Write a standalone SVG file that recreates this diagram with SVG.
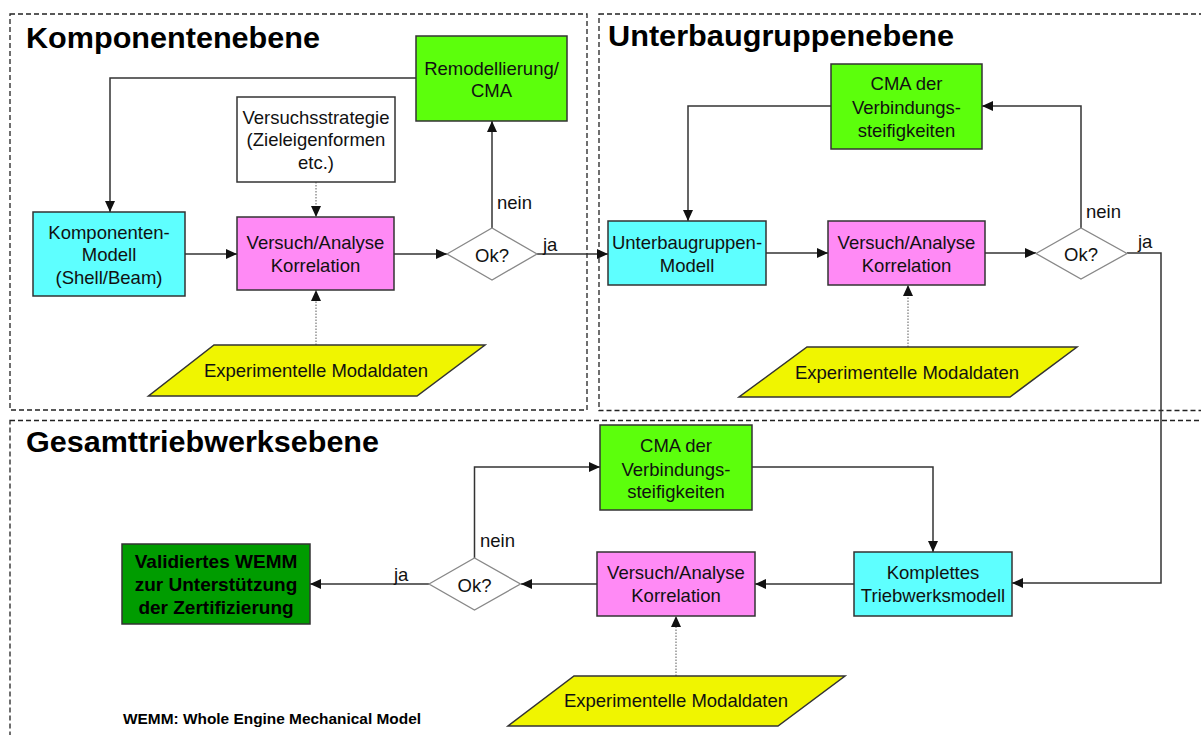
<svg xmlns="http://www.w3.org/2000/svg" width="1201" height="735" viewBox="0 0 1201 735">
<style>
.frame{fill:none;stroke:#222;stroke-width:1.3;stroke-dasharray:5,3}
.box{stroke:#333;stroke-width:1.5}
.green{fill:#5cff0c}
.pink{fill:#ff8af5}
.cyan{fill:#5effff}
.white{fill:#fff}
.yellow{fill:#f0f500}
.dgreen{fill:#009c00}
.dia{fill:#fff;stroke:#888;stroke-width:1.3}
.t{font-family:"Liberation Sans",Arial,sans-serif;font-size:18.5px;fill:#111;text-anchor:middle;dominant-baseline:central}
.tb{font-family:"Liberation Sans",Arial,sans-serif;font-size:19px;font-weight:bold;fill:#000;text-anchor:middle;dominant-baseline:central}
.title{font-family:"Liberation Sans",Arial,sans-serif;font-size:29px;font-weight:bold;fill:#000}
.lbl{font-family:"Liberation Sans",Arial,sans-serif;font-size:18.5px;fill:#111;dominant-baseline:central}
.c{fill:none;stroke:#333;stroke-width:1.5;marker-end:url(#ah)}
.d{fill:none;stroke:#777;stroke-width:1.2;stroke-dasharray:1.5,1.5;marker-end:url(#ah)}
</style>
<defs>
<marker id="ah" markerUnits="userSpaceOnUse" markerWidth="11" markerHeight="10" refX="11" refY="5" orient="auto">
<path d="M0,0 L11,5 L0,10 z" fill="#111"/>
</marker>
</defs>
<rect width="1201" height="735" fill="#fff"/>
<g id="frames">
<rect class="frame" x="10" y="14" width="577" height="396"/>
<rect class="frame" x="599" y="14" width="620" height="396.5"/>
<rect class="frame" x="10" y="420.5" width="1200" height="330"/>
<text class="title" x="26" y="48" textLength="294" lengthAdjust="spacingAndGlyphs">Komponentenebene</text>
<text class="title" x="608" y="46" textLength="346" lengthAdjust="spacingAndGlyphs">Unterbaugruppenebene</text>
<text class="title" x="26" y="452" textLength="353" lengthAdjust="spacingAndGlyphs">Gesamttriebwerksebene</text>
</g>
<g id="connectors">
<path class="c" d="M185,254 H237"/>
<path class="c" d="M394,254 H447"/>
<path class="c" d="M492,228 V121"/>
<path class="c" d="M416,78 H110 V212"/>
<path class="c" d="M537,254 H608"/>
<path class="d" d="M316,182 V217"/>
<path class="d" d="M316,345 V290"/>
<path class="c" d="M766,253 H828"/>
<path class="c" d="M985,253 H1036"/>
<path class="c" d="M1081,228 V106 H982"/>
<path class="c" d="M831,106 H688 V221"/>
<path class="c" d="M1127,253 H1161 V583 H1012"/>
<path class="d" d="M908,347 V285"/>
<path class="c" d="M854,584 H755"/>
<path class="c" d="M597,584 H521"/>
<path class="c" d="M429,584 H310"/>
<path class="c" d="M474.5,558 V467 H600"/>
<path class="c" d="M752,467 H933 V552"/>
<path class="d" d="M676,676 V616"/>
<text class="lbl" x="497" y="202">nein</text>
<text class="lbl" x="543" y="244">ja</text>
<text class="lbl" x="1086" y="211">nein</text>
<text class="lbl" x="1138" y="241">ja</text>
<text class="lbl" x="480" y="540">nein</text>
<text class="lbl" x="394" y="574">ja</text>
</g>
<g id="remodellierung">
<rect class="box green" x="416" y="36" width="151" height="85"/>
<text class="t" x="491.5" y="68">Remodellierung/</text>
<text class="t" x="491.5" y="90">CMA</text>
</g>
<g id="versuchsstrategie">
<rect class="box white" x="237" y="97" width="158" height="85"/>
<text class="t" x="316" y="117">Versuchsstrategie</text>
<text class="t" x="316" y="139">(Zieleigenformen</text>
<text class="t" x="316" y="162">etc.)</text>
</g>
<g id="komponentenmodell">
<rect class="box cyan" x="33" y="212" width="152" height="84"/>
<text class="t" x="109" y="232">Komponenten-</text>
<text class="t" x="109" y="254">Modell</text>
<text class="t" x="109" y="277">(Shell/Beam)</text>
</g>
<g id="versuch1">
<rect class="box pink" x="237" y="217" width="157" height="73"/>
<text class="t" x="315.5" y="242">Versuch/Analyse</text>
<text class="t" x="315.5" y="265">Korrelation</text>
</g>
<g id="ok1">
<polygon class="dia" points="447,254 492,228 537,254 492,280"/>
<text class="t" x="492" y="255">Ok?</text>
</g>
<g id="exp1">
<polygon class="box yellow" points="214,345 485,345 417,396 148.5,396"/>
<text class="t" x="316" y="370">Experimentelle Modaldaten</text>
</g>
<g id="cma2">
<rect class="box green" x="831" y="64" width="151" height="85"/>
<text class="t" x="906.5" y="83">CMA der</text>
<text class="t" x="906.5" y="107">Verbindungs-</text>
<text class="t" x="906.5" y="130">steifigkeiten</text>
</g>
<g id="unterbaugruppenmodell">
<rect class="box cyan" x="608" y="221" width="158" height="64"/>
<text class="t" x="687" y="242.5">Unterbaugruppen-</text>
<text class="t" x="687" y="265">Modell</text>
</g>
<g id="versuch2">
<rect class="box pink" x="828" y="221" width="157" height="64"/>
<text class="t" x="906.5" y="242">Versuch/Analyse</text>
<text class="t" x="906.5" y="265">Korrelation</text>
</g>
<g id="ok2">
<polygon class="dia" points="1036,253.5 1081,228 1127,253.5 1081,279"/>
<text class="t" x="1081" y="254.5">Ok?</text>
</g>
<g id="exp2">
<polygon class="box yellow" points="807,347 1077,347 1010,397 739,397"/>
<text class="t" x="907" y="372.5">Experimentelle Modaldaten</text>
</g>
<g id="cma3">
<rect class="box green" x="600" y="425" width="152" height="85"/>
<text class="t" x="676" y="445">CMA der</text>
<text class="t" x="676" y="469">Verbindungs-</text>
<text class="t" x="676" y="491">steifigkeiten</text>
</g>
<g id="komplettes">
<rect class="box cyan" x="854" y="552" width="158" height="64"/>
<text class="t" x="933" y="572.5">Komplettes</text>
<text class="t" x="933" y="595">Triebwerksmodell</text>
</g>
<g id="versuch3">
<rect class="box pink" x="597" y="552" width="158" height="64"/>
<text class="t" x="676" y="572.5">Versuch/Analyse</text>
<text class="t" x="676" y="595">Korrelation</text>
</g>
<g id="ok3">
<polygon class="dia" points="429,584 474.5,558 520.5,584 474.5,610"/>
<text class="t" x="474.5" y="585">Ok?</text>
</g>
<g id="exp3">
<polygon class="box yellow" points="574,676 845,676 778,726 508,726"/>
<text class="t" x="676" y="700">Experimentelle Modaldaten</text>
</g>
<g id="validiert">
<rect class="box dgreen" x="122" y="544" width="188" height="80"/>
<text class="tb" x="216" y="561">Validiertes WEMM</text>
<text class="tb" x="216" y="584">zur Unterstützung</text>
<text class="tb" x="216" y="607">der Zertifizierung</text>
</g>
<g id="note">
<text x="123" y="719" font-family="Liberation Sans, Arial, sans-serif" font-size="14" font-weight="bold" fill="#000" dominant-baseline="central" textLength="298" lengthAdjust="spacingAndGlyphs">WEMM: Whole Engine Mechanical Model</text>
</g>
</svg>
